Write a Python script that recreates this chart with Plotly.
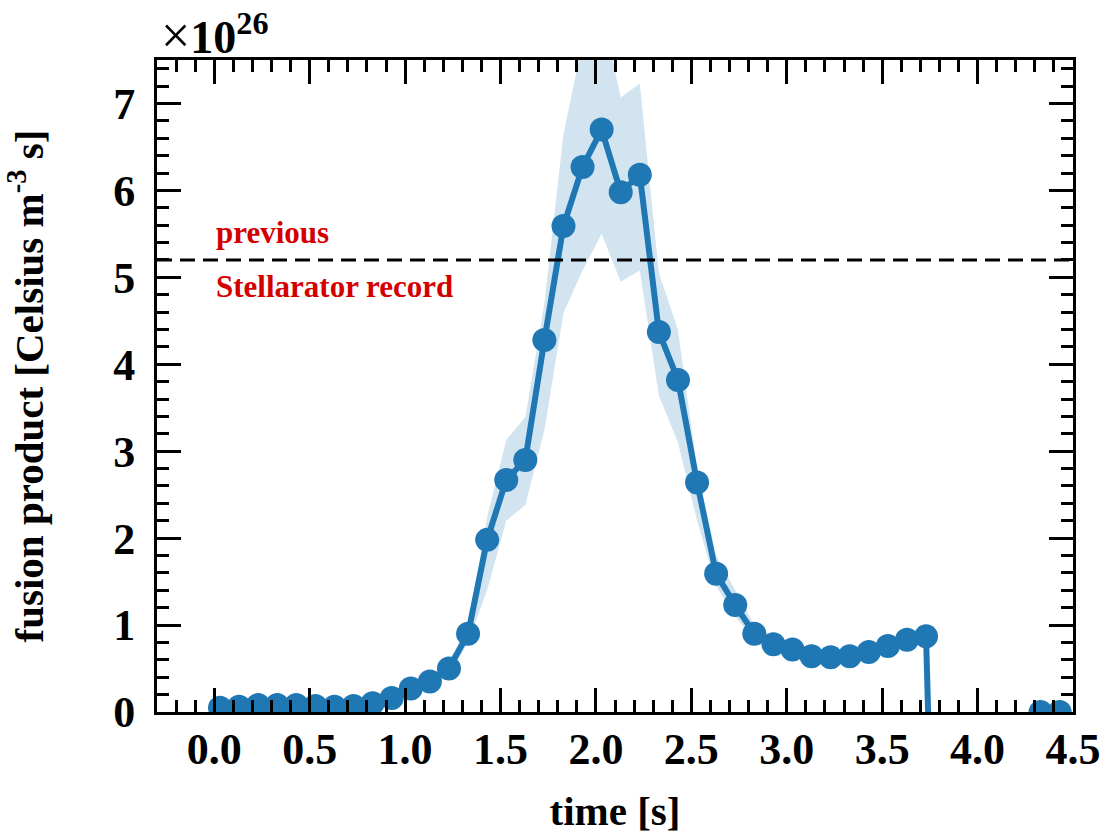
import plotly.graph_objects as go

# time points [s]
t_main = [0.03, 0.13, 0.23, 0.33, 0.43, 0.53, 0.63, 0.73, 0.83, 0.93,
          1.03, 1.13, 1.23, 1.33, 1.43, 1.53, 1.63, 1.73, 1.83, 1.93,
          2.03, 2.13, 2.23, 2.33, 2.43, 2.53, 2.63, 2.73, 2.83, 2.93,
          3.03, 3.13, 3.23, 3.33, 3.43, 3.53, 3.63, 3.73]
# fusion product (x 1e26)
v_main = [0.05, 0.06, 0.08, 0.08, 0.08, 0.07, 0.06, 0.07, 0.10, 0.16,
          0.27, 0.35, 0.50, 0.90, 1.98, 2.67, 2.90, 4.28, 5.59, 6.27,
          6.70, 5.98, 6.18, 4.37, 3.82, 2.64, 1.59, 1.23, 0.90, 0.78,
          0.72, 0.64, 0.63, 0.64, 0.69, 0.76, 0.83, 0.87]
lower = [0.02, 0.03, 0.05, 0.05, 0.05, 0.04, 0.03, 0.04, 0.07, 0.12,
         0.22, 0.30, 0.42, 0.80, 1.40, 2.20, 2.38, 3.24, 4.59, 5.08,
         5.50, 4.95, 5.08, 3.64, 3.10, 2.20, 1.45, 1.10, 0.82, 0.70,
         0.64, 0.56, 0.55, 0.56, 0.62, 0.69, 0.76, 0.80]
upper = [0.08, 0.09, 0.11, 0.11, 0.11, 0.10, 0.09, 0.10, 0.13, 0.20,
         0.32, 0.42, 0.58, 1.00, 2.24, 3.13, 3.39, 4.70, 6.65, 7.70,
         8.10, 7.07, 7.23, 5.05, 4.40, 2.80, 1.80, 1.40, 1.00, 0.86,
         0.80, 0.72, 0.71, 0.72, 0.76, 0.83, 0.90, 0.93]
# tail after the end of the discharge
t_tail = [3.83, 3.93, 4.03, 4.13, 4.23, 4.33, 4.43]
v_tail = [-7.3, None, None, None, None, 0.0, 0.0]

record_value = 5.2
label_upper = "previous"
label_lower = "Stellarator record"
label_upper_y = 5.52
label_lower_y = 4.9

x_tickvals = [0.0, 0.5, 1.0, 1.5, 2.0, 2.5, 3.0, 3.5, 4.0, 4.5]
x_ticktext = ["0.0", "0.5", "1.0", "1.5", "2.0", "2.5", "3.0", "3.5", "4.0", "4.5"]
y_tickvals = [0, 1, 2, 3, 4, 5, 6, 7]
y_ticktext = ["0", "1", "2", "3", "4", "5", "6", "7"]

BLUE = "#1f77b4"
FONT = "Liberation Serif"

fig = go.Figure()

# uncertainty band
fig.add_trace(go.Scatter(
    x=t_main + t_main[::-1],
    y=upper + lower[::-1],
    fill="toself",
    fillcolor="rgba(31,119,180,0.2)",
    line=dict(width=0),
    mode="lines",
    hoverinfo="skip",
    showlegend=False,
))

fig.add_trace(go.Scatter(
    x=t_main + t_tail,
    y=v_main + v_tail,
    mode="lines+markers",
    line=dict(color=BLUE, width=6),
    marker=dict(color=BLUE, size=24),
    connectgaps=False,
    showlegend=False,
))

fig.add_hline(y=record_value, line=dict(color="black", width=3, dash="15px,8px"))

fig.add_annotation(x=0.0, y=label_upper_y, xref="x", yref="y", text=label_upper,
                   showarrow=False, xanchor="left", yanchor="middle",
                   font=dict(family=FONT, size=31, color="#d40000", weight="bold"))
fig.add_annotation(x=0.0, y=label_lower_y, xref="x", yref="y", text=label_lower,
                   showarrow=False, xanchor="left", yanchor="middle",
                   font=dict(family=FONT, size=31, color="#d40000", weight="bold"))

fig.add_annotation(x=0.0, y=1.0, xref="paper", yref="paper",
                   text="<span style='font-size:52px'>×</span><b>10<sup>26</sup></b>",
                   showarrow=False, xanchor="left", yanchor="bottom", xshift=2, yshift=-6,
                   font=dict(family=FONT, size=46, color="black"))

axis_common = dict(
    showline=True, linecolor="black", linewidth=3, mirror="allticks",
    ticks="inside", ticklen=24, tickwidth=3, tickcolor="black",
    showgrid=False, zeroline=False,
    tickfont=dict(family=FONT, size=44, color="black", weight="bold"),
)

fig.update_xaxes(
    range=[-0.3, 4.5], tickvals=x_tickvals, ticktext=x_ticktext,
    minor=dict(ticks="inside", ticklen=12, tickwidth=3, tickcolor="black", dtick=0.1, tick0=0),
    title=dict(text="time [s]", font=dict(family=FONT, size=41, color="black", weight="bold"), standoff=32),
    ticklabelstandoff=-4,
    **axis_common,
)
fig.update_yaxes(
    range=[0, 7.5], tickvals=y_tickvals, ticktext=y_ticktext,
    minor=dict(ticks="inside", ticklen=12, tickwidth=3, tickcolor="black", dtick=0.2, tick0=0),
    title=dict(text="fusion product [Celsius m<sup>-3</sup> s]",
               font=dict(family=FONT, size=41, color="black", weight="bold"), standoff=60),
    ticklabelstandoff=10,
    **axis_common,
)

fig.update_layout(
    width=1107, height=834,
    margin=dict(l=157, r=34, t=60, b=122, autoexpand=False),
    plot_bgcolor="white", paper_bgcolor="white",
    showlegend=False,
)

fig.write_html("out.html",
               config={"displayModeBar": False},
               post_script="document.body.style.margin='0px';document.body.style.overflow='hidden';")
